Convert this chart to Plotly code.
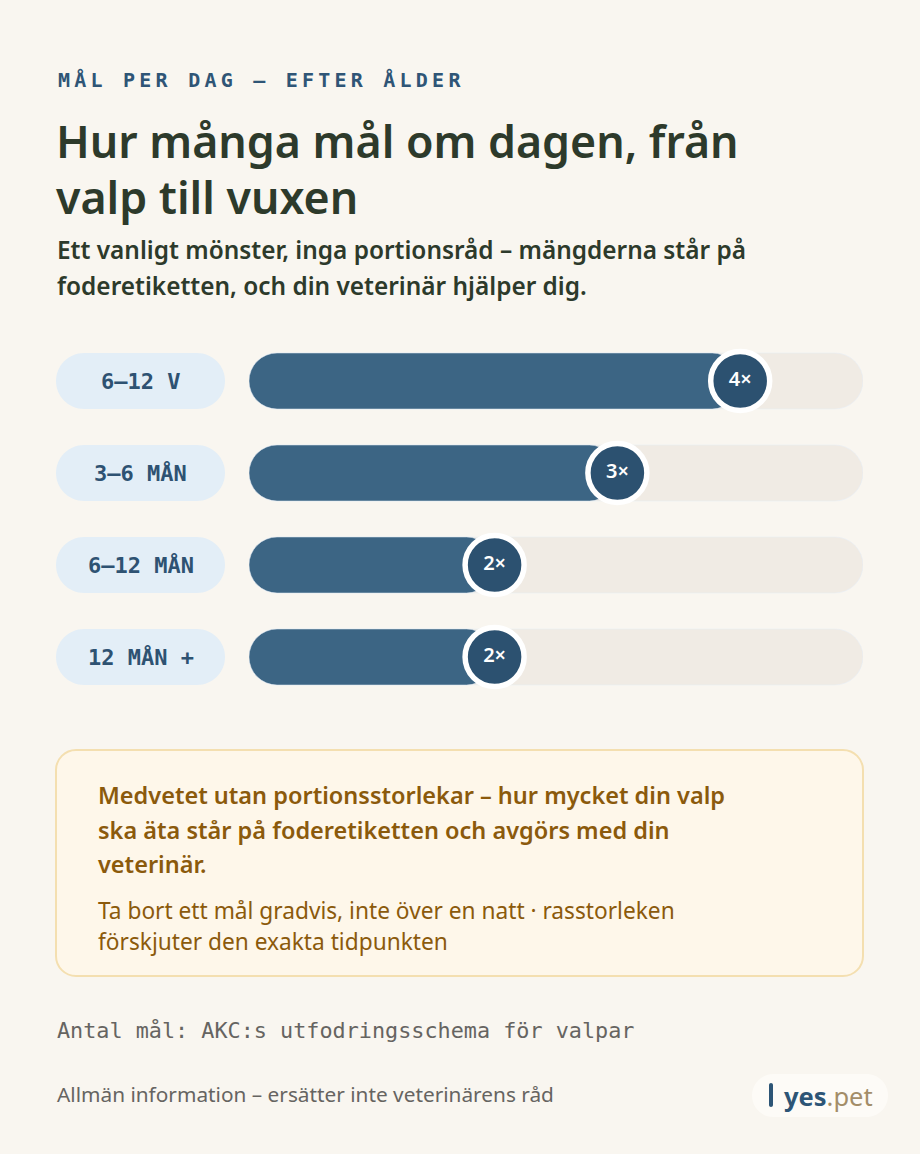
import plotly.graph_objects as go

# ---------------- data ----------------
categories = ["6–12 V", "3–6 MÅN", "6–12 MÅN", "12 MÅN +"]
meals_per_day = [4, 3, 2, 2]
value_labels = ["4×", "3×", "2×", "2×"]
scale_max = 5

kicker = "MÅL PER DAG — EFTER ÅLDER"
title_lines = ["Hur många mål om dagen, från", "valp till vuxen"]
subtitle_lines = ["Ett vanligt mönster, inga portionsråd – mängderna står på",
                  "foderetiketten, och din veterinär hjälper dig."]
callout_bold = ["Medvetet utan portionsstorlekar – hur mycket din valp",
                "ska äta står på foderetiketten och avgörs med din",
                "veterinär."]
callout_regular = ["Ta bort ett mål gradvis, inte över en natt · rasstorleken",
                   "förskjuter den exakta tidpunkten"]
source_text = "Antal mål: AKC:s utfodringsschema för valpar"
disclaimer = "Allmän information – ersätter inte veterinärens råd"

# ---------------- styles ----------------
W, H = 920, 1154
BG = "#f9f6f0"
TRACK = "#f0ebe4"
BAR = "#3c6584"
BUBBLE = "#2c5170"
PILL = "#e3eef7"
PILL_TXT = "#2e5272"
DARK = "#2d3a2b"
BROWN = "#8b5a0c"
GRAY = "#666461"
SANS = "Noto Sans"
MONO = "DejaVu Sans Mono"

ROW_TOP, ROW_BOTTOM = 335, 703
X0, X1 = 249, 863
BAR_H = 56
ROW_STEP = (ROW_BOTTOM - ROW_TOP) / len(categories)
bw = BAR_H / ROW_STEP

fig = go.Figure()

n = len(categories)
# track (explicit base -> all corners rounded)
fig.add_trace(go.Bar(y=categories, x=[scale_max] * n, base=[0] * n,
                     orientation="h", width=bw, marker=dict(color=TRACK, cornerradius=BAR_H / 2),
                     hoverinfo="skip", showlegend=False))
# value bars
fig.add_trace(go.Bar(y=categories, x=meals_per_day, base=[0] * n,
                     orientation="h", width=bw, marker=dict(color=BAR, cornerradius=BAR_H / 2),
                     hoverinfo="skip", showlegend=False))
# bubbles
fig.add_trace(go.Scatter(y=categories, x=meals_per_day, mode="markers+text",
                         text=value_labels, textposition="middle center",
                         textfont=dict(family=SANS, size=20, color="white", weight=600),
                         marker=dict(size=59, color=BUBBLE, line=dict(color="white", width=5.5)),
                         hoverinfo="skip", showlegend=False, cliponaxis=False))

fig.update_layout(
    width=W, height=H, margin=dict(l=0, r=0, t=0, b=0),
    paper_bgcolor=BG, plot_bgcolor="rgba(0,0,0,0)",
    barmode="overlay",
    xaxis=dict(domain=[X0 / W, X1 / W], range=[0, scale_max], visible=False, fixedrange=True),
    yaxis=dict(domain=[1 - ROW_BOTTOM / H, 1 - ROW_TOP / H], type="category",
               categoryarray=categories, range=[n - 0.5, -0.5], visible=False, fixedrange=True),
    xaxis2=dict(domain=[0, 1], range=[0, W], visible=False, anchor="y2", fixedrange=True),
    yaxis2=dict(domain=[0, 1], range=[H, 0], visible=False, anchor="x2", fixedrange=True),
)
# invisible helper trace so the full-canvas x2/y2 axes exist
fig.add_trace(go.Scatter(x=[0], y=[0], xaxis="x2", yaxis="y2", mode="markers",
                         marker=dict(size=1, color="rgba(0,0,0,0)"), hoverinfo="skip", showlegend=False))


def rrect(x0, y0, x1, y1, r):
    k = 0.5523 * r
    return (f"M{x0 + r},{y0} L{x1 - r},{y0} C{x1 - r + k},{y0} {x1},{y0 + r - k} {x1},{y0 + r} "
            f"L{x1},{y1 - r} C{x1},{y1 - r + k} {x1 - r + k},{y1} {x1 - r},{y1} "
            f"L{x0 + r},{y1} C{x0 + r - k},{y1} {x0},{y1 - r + k} {x0},{y1 - r} "
            f"L{x0},{y0 + r} C{x0},{y0 + r - k} {x0 + r - k},{y0} {x0 + r},{y0} Z")


shapes = []
ann = []


def text(x, y, s, size, color, family=SANS, weight=400, xanchor="left"):
    ann.append(dict(x=x, y=y, xref="x2", yref="y2", text=s, showarrow=False,
                    xanchor=xanchor, yanchor="middle",
                    font=dict(family=family, size=size, color=color, weight=weight)))


# kicker with letter spacing (small spacer after each letter)
spacer = "<span style='font-size:7px'> </span>"
spaced = spacer.join(list(kicker))
text(56, 80, spaced, 20, "#2f5576", MONO, 600)
# title
text(54, 140, title_lines[0], 44.7, DARK, SANS, 600)
text(54, 196, title_lines[1], 44.7, DARK, SANS, 600)
# subtitle
text(55, 249, subtitle_lines[0], 24.4, DARK, SANS, 600)
text(55, 285, subtitle_lines[1], 24.4, DARK, SANS, 600)

# pills
for i, c in enumerate(categories):
    cy = ROW_TOP + ROW_STEP * (i + 0.5)
    shapes.append(dict(type="path", xref="x2", yref="y2", path=rrect(56, cy - 28, 225, cy + 28, 28),
                       fillcolor=PILL, line=dict(width=0), layer="below"))
    text(140.5, cy, c, 22, PILL_TXT, MONO, 700, xanchor="center")

# callout box
shapes.append(dict(type="path", xref="x2", yref="y2", path=rrect(56, 750, 863, 976, 20),
                   fillcolor="#fef7ea", line=dict(color="#f4dfb0", width=2), layer="below"))
for j, s in enumerate(callout_bold):
    text(96, 795 + j * 34.5, s, 23.5, BROWN, SANS, 600)
for j, s in enumerate(callout_regular):
    text(96, 910 + j * 31, s, 22.7, BROWN, SANS, 400)

# footer
text(55, 1030, source_text, 21.8, GRAY, MONO, 400)
text(55, 1094, disclaimer, 20.8, GRAY, SANS, 400)

# logo
shapes.append(dict(type="path", xref="x2", yref="y2", path=rrect(752, 1074, 888, 1117, 21.5),
                   fillcolor="#fdfbf7", line=dict(width=0), layer="below"))
shapes.append(dict(type="path", xref="x2", yref="y2", path=rrect(769, 1083, 773, 1107, 2),
                   fillcolor="#2d5576", line=dict(width=0), layer="below"))
ann.append(dict(x=782, y=1096, xref="x2", yref="y2", showarrow=False, xanchor="left", yanchor="middle",
                text="<b>yes</b><span style='color:#a38d68'>.pet</span>",
                font=dict(family=SANS, size=25.5, color="#2d5576")))

fig.update_layout(shapes=shapes, annotations=ann)
fig.write_html("out.html")
